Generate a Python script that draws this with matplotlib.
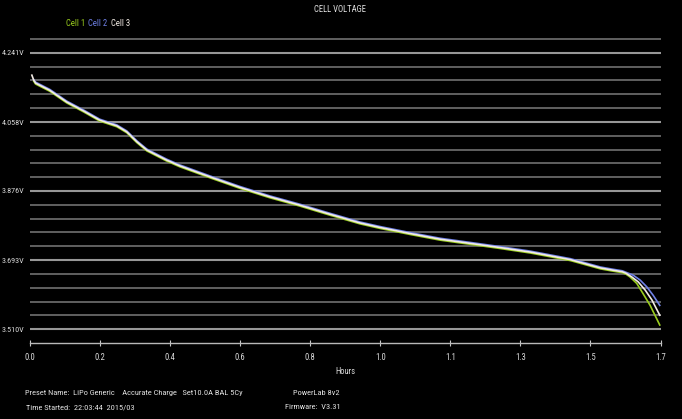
import matplotlib
matplotlib.use("Agg")
import matplotlib.pyplot as plt
from matplotlib.ticker import FixedLocator

plt.rcParams['font.family'] = ['Roboto Condensed', 'PT Sans Narrow', 'Liberation Sans', 'DejaVu Sans']

# ---- data ----
common_h = [0.015, 0.053, 0.099, 0.145, 0.188, 0.234, 0.261, 0.288, 0.315, 0.369,
            0.404, 0.485, 0.566, 0.647, 0.728, 0.809, 0.890, 0.944, 1.025, 1.106,
            1.187, 1.267, 1.349, 1.457, 1.538, 1.572, 1.597, 1.607]
common_v = [4.161, 4.142, 4.111, 4.087, 4.063, 4.048, 4.032, 4.006, 3.984, 3.957,
            3.942, 3.913, 3.885, 3.860, 3.838, 3.814, 3.791, 3.779, 3.763, 3.748,
            3.737, 3.726, 3.714, 3.694, 3.672, 3.666, 3.662, 3.658]

cell1_h = [0.010] + common_h + [1.618, 1.636, 1.653, 1.672, 1.685, 1.698]
cell1_v = [4.166] + [v - 0.0025 for v in common_v] + [3.648, 3.631, 3.604, 3.573, 3.547, 3.521]

cell2_h = [0.010] + common_h + [1.626, 1.645, 1.663, 1.680, 1.698]
cell2_v = [4.170] + [v + 0.0025 for v in common_v] + [3.653, 3.640, 3.622, 3.600, 3.573]

cell3_h = [0.005, 0.010] + common_h + [1.623, 1.640, 1.659, 1.677, 1.698]
cell3_v = [4.182, 4.169] + common_v + [3.648, 3.635, 3.613, 3.587, 3.547]

series_names = ["Cell 1", "Cell 2", "Cell 3"]
series_colors = ["#9acd1e", "#6f80e6", "#f2ebe4"]

x_ticks = [i * 1.7 / 9 for i in range(10)]
x_tick_labels = ["0.0", "0.2", "0.4", "0.6", "0.8", "1.0", "1.1", "1.3", "1.5", "1.7"]
y_major = [3.510, 3.693, 3.876, 4.058, 4.241]
y_major_labels = ["3.510V", "3.693V", "3.876V", "4.058V", "4.241V"]
y_step = (4.241 - 3.510) / 20
y_minor = [3.510 + k * y_step for k in range(1, 22) if k % 5 != 0]

FS = 6.2

# ---- figure ----
fig = plt.figure(figsize=(6.82, 4.19), dpi=100, facecolor="black")
ax = fig.add_axes([30 / 682, 0.18138, 630.5 / 682, 0.7286], facecolor="black")

ax.set_xlim(0, 1.7)
ax.set_ylim(3.510 - y_step, 4.281)

# grid
ax.yaxis.set_major_locator(FixedLocator(y_major))
ax.yaxis.set_minor_locator(FixedLocator(y_minor))
ax.set_yticklabels(y_major_labels)
ax.grid(True, axis="y", which="major", color="#979797", lw=1.5)
ax.grid(True, axis="y", which="minor", color="#686868", lw=1.3)
ax.tick_params(axis="y", which="both", length=0, colors="#d8d8d8", labelsize=5.9, pad=4)
ax.set_axisbelow(True)

ax.set_xticks(x_ticks)
ax.set_xticklabels(x_tick_labels)
ax.tick_params(axis="x", which="major", direction="inout", length=5, width=0.8,
               color="#c8c8c8", colors="#d8d8d8", labelsize=FS, pad=5)
for s in ["top", "right", "left"]:
    ax.spines[s].set_visible(False)
ax.spines["bottom"].set_color("#b8b8b8")
ax.spines["bottom"].set_linewidth(1.0)

for h, v, c in [(cell1_h, cell1_v, series_colors[0]),
                (cell2_h, cell2_v, series_colors[1]),
                (cell3_h, cell3_v, series_colors[2])]:
    ax.plot(h, v, color=c, lw=1.2, solid_joinstyle="round")

ax.set_xlabel("Hours", color="#d8d8d8", fontsize=FS, labelpad=3)

# title and legend
fig.text(340 / 682, 1 - 9 / 419, "CELL VOLTAGE", color="#e0e0e0", fontsize=FS,
         ha="center", va="center")
leg_x = [66, 88, 111]
for name, col, xp in zip(series_names, series_colors, leg_x):
    fig.text(xp / 682, 1 - 24 / 419, name, color=col, fontsize=FS, ha="left", va="center")

# footer
ft = dict(color="#e0e0e0", fontsize=6.0, va="center", ha="left")
fig.text(25 / 682, 1 - 393 / 419,
         "Preset Name:  LiPo Generic    Accurate Charge   Set10.0A BAL 5Cy", **ft)
fig.text(26 / 682, 1 - 407 / 419, "Time Started:  22:03:44  2015/03", **ft)
fig.text(293 / 682, 1 - 393 / 419, "PowerLab 8v2", **ft)
fig.text(285 / 682, 1 - 407 / 419, "Firmware:  V3.31", **ft)

fig.savefig("out.png", dpi=100, facecolor="black")
